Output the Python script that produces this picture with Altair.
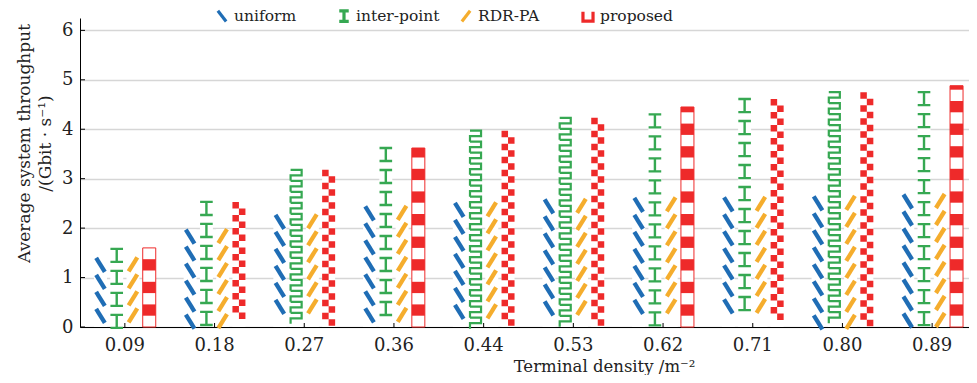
import altair as alt
import pandas as pd

# ---------------- data ----------------
categories = ["0.09", "0.18", "0.27", "0.36", "0.44", "0.53", "0.62", "0.71", "0.80", "0.89"]
series_names = ["uniform", "inter-point", "RDR-PA", "proposed"]
uniform = [1.40, 1.97, 2.27, 2.44, 2.51, 2.58, 2.61, 2.62, 2.64, 2.68]
inter_point = [1.58, 2.53, 3.18, 3.62, 3.97, 4.23, 4.30, 4.61, 4.75, 4.75]
rdr_pa = [1.41, 1.98, 2.28, 2.45, 2.52, 2.59, 2.62, 2.63, 2.65, 2.69]
proposed = [1.60, 2.53, 3.18, 3.62, 3.97, 4.23, 4.45, 4.61, 4.75, 4.88]
# hatch variant seen in each bar of the reference
green_style = ["I", "I", "M", "I", "M", "M", "I", "I", "M", "I"]
red_style = ["A", "C", "C", "A", "C", "C", "A", "C", "C", "A"]
y_ticks = [0, 1, 2, 3, 4, 5, 6]

# ---------------- style ----------------
colors = {"uniform": "#1f6db5", "inter-point": "#36a852", "RDR-PA": "#f5ad2d", "proposed": "#ee2a2a"}
FONT = "DejaVu Serif"
W, H = 889, 309
XRANGE = 897
YMAX = 6.25
PX = H / YMAX  # pixels per data unit

values = {"uniform": uniform, "inter-point": inter_point, "RDR-PA": rdr_pa, "proposed": proposed}

base = pd.DataFrame(
    [{"cat": c, "series": s, "value": v} for s in series_names for c, v in zip(categories, values[s])]
)


def glyph_rows(series, vals, period_px, half_px, keep=None):
    """hatch glyphs laid from the top of each bar downwards"""
    rows = []
    for i, (c, v) in enumerate(zip(categories, vals)):
        if keep is not None and not keep[i]:
            continue
        y = v - half_px / PX
        while y - half_px / PX >= -2.5 / PX:
            rows.append({"cat": c, "series": series, "y": y})
            y -= period_px / PX
    return pd.DataFrame(rows)


blue_df = glyph_rows("uniform", uniform, 17, 7)
green_i_df = glyph_rows("inter-point", inter_point, 22, 6.5, [s == "I" for s in green_style])
green_m_df = glyph_rows("inter-point", inter_point, 11, 5.5, [s == "M" for s in green_style])
orange_df = glyph_rows("RDR-PA", rdr_pa, 17, 7)
red_c_df = glyph_rows("proposed", proposed, 13, 6.5, [s == "C" for s in red_style])

cell = 11.3 / PX
seg_rows = []
for c, v, st in zip(categories, proposed, red_style):
    if st != "A":
        continue
    k = 0
    while k * cell < v:
        if k % 2 == 1:
            seg_rows.append({"cat": c, "series": "proposed", "y0": k * cell, "y1": min((k + 1) * cell, v)})
        k += 1
red_seg_df = pd.DataFrame(seg_rows)
red_outline_df = base[(base.series == "proposed")].copy()
red_outline_df = red_outline_df[[st == "A" for st in red_style]]

tick_df = pd.DataFrame({"t": y_ticks})
cat_df = pd.DataFrame({"cat": categories})
legend_df = pd.DataFrame({"series": series_names})

# ---------------- encodings ----------------
YTITLE = ["Average system throughput", "/(Gbit · s⁻¹)"]
x_axis = alt.Axis(
    labelAngle=0, ticks=False, domainColor="black", domainWidth=1, grid=False,
    labelFont=FONT, labelFontSize=18, labelColor="#222", labelPadding=9,
    title="Terminal density /m⁻²", titleFont=FONT, titleFontSize=16.5, titleFontWeight="normal",
    titleColor="#222", titleX=524, titleY=31, titleBaseline="top", titleAlign="center",
)
y_axis = alt.Axis(
    values=y_ticks, grid=True, gridColor="#d6d6d6", gridWidth=1.3, ticks=False,
    domainColor="black", domainWidth=1, labelFont=FONT, labelFontSize=18, labelColor="#222",
    labelPadding=7, title=YTITLE, titleFont=FONT, titleY=125,
    titleFontSize=17, titleFontWeight="normal", titleColor="#222", titlePadding=7, titleLineHeight=21,
)
xscale = alt.Scale(domain=categories, range=[0, XRANGE], paddingInner=0.275, paddingOuter=0.1375)
X = alt.X("cat:N", scale=xscale, axis=x_axis)
XO = alt.XOffset("series:N", scale=alt.Scale(domain=series_names, paddingInner=0.2, paddingOuter=0.1))
yscale = alt.Scale(domain=[0, YMAX], nice=False, zero=True)


def Y(field):
    return alt.Y(field, scale=yscale, axis=y_axis, title=YTITLE)


# white backgrounds of every bar
bg = alt.Chart(base).mark_bar(color="white").encode(x=X, xOffset=XO, y=Y("value:Q"))

red_outline = alt.Chart(red_outline_df).mark_bar(
    fill="white", stroke=colors["proposed"], strokeWidth=1
).encode(x=X, xOffset=XO, y=Y("value:Q"))

red_seg = alt.Chart(red_seg_df).mark_bar(color=colors["proposed"]).encode(
    x=X, xOffset=XO, y=Y("y0:Q"), y2="y1:Q"
)


def glyph_layer(df, shape, color, filled, sw=0, size=169):
    if filled:
        m = alt.Chart(df).mark_point(shape=shape, filled=True, fill=color, size=size, opacity=1, strokeWidth=0)
    else:
        m = alt.Chart(df).mark_point(shape=shape, filled=False, stroke=color, size=size, opacity=1,
                                     strokeWidth=sw, strokeCap="butt")
    return m.encode(x=X, xOffset=XO, y=Y("y:Q"))


blue = glyph_layer(blue_df, "M-0.62,-1L0.62,1", colors["uniform"], False, 4.3, 196)
orange = glyph_layer(orange_df, "M-0.62,1L0.62,-1", colors["RDR-PA"], False, 4.3, 196)
green_i = glyph_layer(green_i_df, "M-0.9,-0.93H0.9M0,-0.93V0.93M-0.9,0.93H0.9", colors["inter-point"], False, 2.4, 196)
green_m = glyph_layer(green_m_df, "M-0.85,-0.846H0.85V0H-0.85V0.846", colors["inter-point"], False, 2.2)
red_c = glyph_layer(red_c_df, "M-1,-1H0V0H-1Z M0,0H1V1H0Z", colors["proposed"], True)

y_tick_marks = alt.Chart(tick_df).mark_rule(color="black", strokeWidth=1).encode(
    y=Y("t:Q"), x=alt.value(0), x2=alt.value(5)
)
x_tick_marks = alt.Chart(cat_df).mark_rule(color="black", strokeWidth=1).encode(
    x=alt.X("cat:N", bandPosition=0.5, scale=xscale, axis=x_axis),
    y=alt.value(H - 4), y2=alt.value(H),
)

legend_paths = [
    "M-0.7,-0.9L0.7,0.9",
    "M-0.8,-0.9H0.8M0,-0.9V0.9M-0.8,0.9H0.8",
    "M-0.7,0.9L0.7,-0.9",
    "M-0.85,-0.8V0.8H0.85V-0.8",
]
legend_layer = alt.Chart(legend_df).mark_point(opacity=0, filled=False, strokeWidth=3).encode(
    x=alt.value(0), y=alt.value(0),
    color=alt.Color("series:N", scale=alt.Scale(domain=series_names, range=[colors[s] for s in series_names]),
                    legend=alt.Legend(title=None)),
    shape=alt.Shape("series:N", scale=alt.Scale(domain=series_names, range=legend_paths),
                    legend=alt.Legend(title=None)),
)

chart = alt.layer(
    bg, red_outline, red_seg, blue, green_i, green_m, orange, red_c, y_tick_marks, x_tick_marks, legend_layer
).properties(
    width=W, height=H,
    autosize=alt.AutoSizeParams(type="none"),
    padding={"left": 72, "top": 10, "right": 0, "bottom": 48},
).configure_view(stroke=None).configure_legend(
    orient="none", legendX=134, legendY=-10, direction="horizontal", columns=4, gridAlign="all",
    columnPadding=14, symbolSize=140, symbolStrokeWidth=3.2, symbolOpacity=1,
    labelFont=FONT, labelFontSize=15.5, labelColor="#222", labelOffset=4,
    symbolFillColor="transparent",
)

chart.save("out.html", embed_options={"renderer": "svg", "actions": False})
